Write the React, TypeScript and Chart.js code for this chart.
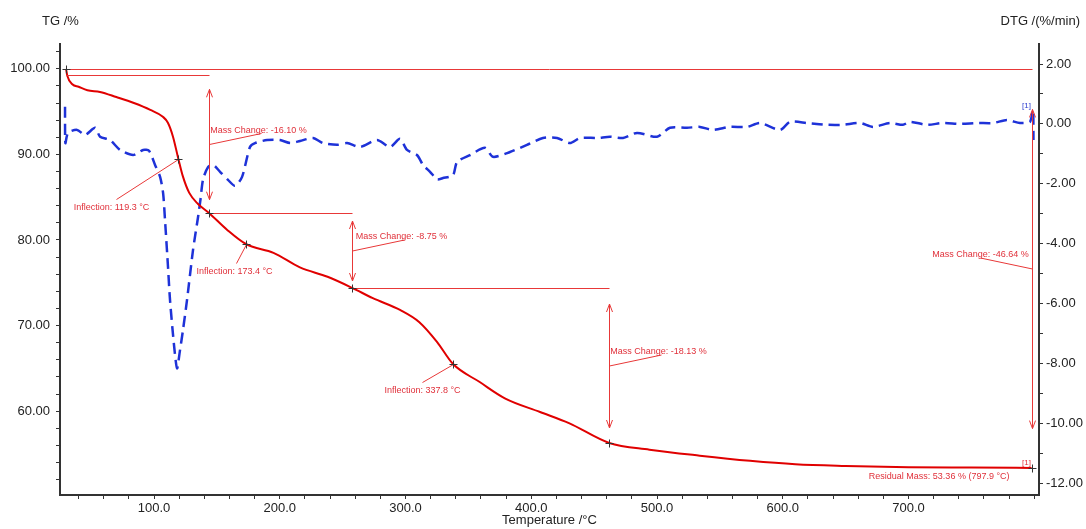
import { useEffect, useRef } from 'react';
import { Chart, registerables } from 'chart.js';

Chart.register(...registerables);

const FONT = "'Liberation Sans', Arial, sans-serif";

// TG curve (Temperature °C, TG %)
const tgTemps = [30, 31, 35, 40, 47, 57, 70, 84, 97, 107, 111, 115, 119.3, 123, 128, 135, 143.7, 158, 173.4, 195, 216, 238, 257.5, 274, 296, 311, 325, 337.8, 359, 379, 407, 430, 462, 494, 534, 574, 610, 650, 700, 750, 797.9];
const tgValues = [100.0, 99.2, 98.2, 97.9, 97.5, 97.3, 96.7, 96.0, 95.2, 94.4, 93.7, 92.1, 89.5, 87.4, 85.5, 84.2, 83.16, 81.2, 79.5, 78.5, 76.8, 75.7, 74.41, 73.2, 71.8, 70.4, 68.1, 65.5, 63.4, 61.5, 59.9, 58.6, 56.28, 55.5, 54.8, 54.2, 53.8, 53.6, 53.45, 53.4, 53.36];

// DTG curve (Temperature °C, DTG %/min)
const dtgTemps = [29.2, 29.5, 31.6, 38.8, 45.1, 53.1, 57.1, 65.0, 73.0, 83.3, 91.3, 96, 100.8, 104.8, 107.2, 108.7, 111.1, 112.7, 115.9, 118.3, 120.5, 123, 126.2, 131, 135, 137, 139, 143, 147, 152.5, 158.8, 164.4, 170, 176.3, 180.3, 189.9, 200.2, 208.2, 216.1, 226.4, 234.4, 245.5, 253.5, 263.8, 277.3, 287.7, 295.6, 301.2, 309.1, 313.9, 319.5, 325, 329.8, 337.8, 341, 351.3, 363.2, 369.6, 383.1, 396.6, 409.3, 420.5, 430.8, 438.8, 452.3, 462.6, 473, 484.1, 500, 510.3, 523.9, 534.2, 544.5, 558, 571.6, 581.9, 597.8, 605.8, 619.3, 635.2, 647.9, 661.4, 671.8, 685.3, 695.6, 701.2, 714.7, 727.4, 741, 754.5, 767.2, 778.3, 788.7, 796.6, 799, 799.4];
const dtgValues = [0.57, -0.64, -0.30, -0.20, -0.37, -0.13, -0.43, -0.54, -0.87, -1.04, -0.87, -0.90, -1.37, -1.77, -2.31, -3.2, -4.78, -5.89, -7.40, -8.17, -7.6, -6.89, -5.89, -4.21, -3.11, -2.5, -1.85, -1.44, -1.37, -1.6, -1.87, -2.07, -1.77, -0.77, -0.64, -0.54, -0.54, -0.64, -0.57, -0.47, -0.64, -0.70, -0.64, -0.77, -0.54, -0.77, -0.50, -0.87, -1.04, -1.37, -1.6, -1.85, -1.81, -1.71, -1.27, -1.04, -0.80, -1.10, -0.94, -0.70, -0.47, -0.47, -0.64, -0.47, -0.47, -0.43, -0.47, -0.30, -0.43, -0.13, -0.13, -0.10, -0.20, -0.10, -0.10, 0.03, -0.20, 0.07, 0.03, -0.03, -0.03, 0.03, -0.10, 0.03, -0.03, 0.07, -0.03, 0.03, 0.0, 0.03, 0.03, 0.13, 0.03, 0.07, 0.47, -0.54];

// Mass change steps
const stepLabels = ['Mass Change: -16.10 %', 'Mass Change: -8.75 %', 'Mass Change: -18.13 %', 'Mass Change: -46.64 %'];
const stepStartT = [30, 143.7, 257.5, 30];
const stepEndT = [143.7, 257.5, 462.0, 797.9];
const stepFrom = [99.26, 83.16, 74.41, 100.0];
const stepTo = [83.16, 74.41, 56.28, 53.36];

// Inflection points
const inflectionT = [119.3, 173.4, 337.8];
const inflectionTG = [89.5, 79.5, 65.5];
const inflectionLabels = ['Inflection: 119.3 °C', 'Inflection: 173.4 °C', 'Inflection: 337.8 °C'];

const residualLabel = 'Residual Mass: 53.36 % (797.9 °C)';
const residualT = 797.9;
const residualTG = 53.36;

const RED_LINE = '#e83838';
const RED_TEXT = '#e0303a';

const annotationPlugin = {
  id: 'tgAnnotations',
  afterDatasetsDraw(chart: any) {
    const { ctx, scales } = chart;
    const xs = scales.x;
    const ys = scales.y;
    const y1 = scales.y1;
    const px = (t: number) => Math.round(xs.getPixelForValue(t)) + 0.5;
    const py = (v: number) => Math.round(ys.getPixelForValue(v)) + 0.5;
    const line = (ax: number, ay: number, bx: number, by: number) => {
      ctx.beginPath();
      ctx.moveTo(ax, ay);
      ctx.lineTo(bx, by);
      ctx.stroke();
    };
    const arrowHead = (x: number, tip: number, dir: number) => {
      ctx.beginPath();
      ctx.moveTo(x - 3, tip - dir * 8);
      ctx.lineTo(x, tip);
      ctx.lineTo(x + 3, tip - dir * 8);
      ctx.stroke();
    };
    const cross = (x: number, y: number) => {
      ctx.save();
      ctx.strokeStyle = '#333';
      ctx.lineWidth = 1;
      line(x - 4, y, x + 4, y);
      line(x, y - 4, x, y + 4);
      ctx.restore();
    };

    ctx.save();
    ctx.lineWidth = 1;
    ctx.strokeStyle = RED_LINE;
    ctx.fillStyle = RED_TEXT;
    ctx.font = `9px ${FONT}`;

    for (let i = 0; i < stepLabels.length; i++) {
      const xa = px(stepEndT[i]);
      const yTop = py(stepFrom[i]);
      const yBot = py(stepTo[i]);
      ctx.strokeStyle = RED_LINE;
      line(px(stepStartT[i]), yTop, xa, yTop);
      const span = yBot - yTop;
      const a1 = yTop + span * 0.1;
      const a2 = yBot - span * 0.1;
      line(xa, a1, xa, a2);
      arrowHead(xa, a1, -1);
      arrowHead(xa, a2, 1);
      const mid = (yTop + yBot) / 2;
      const dx = i === 3 ? -52 : 52;
      const ex = xa + dx;
      const ey = mid - 11;
      line(xa, mid, ex, ey);
      ctx.textAlign = 'center';
      ctx.textBaseline = 'alphabetic';
      ctx.fillText(stepLabels[i], ex + (i === 3 ? 0 : -3), ey - 1);
    }

    const inflOffsets = [
      { lx: -62, ly: 40, tx: -67, ty: 48 },
      { lx: -10, ly: 19, tx: -12, ty: 27 },
      { lx: -31, ly: 18, tx: -31, ty: 26 },
    ];
    for (let i = 0; i < inflectionT.length; i++) {
      const mx = px(inflectionT[i]);
      const my = py(inflectionTG[i]);
      const o = inflOffsets[i];
      line(mx, my, mx + o.lx, my + o.ly);
      ctx.textAlign = 'center';
      ctx.textBaseline = 'middle';
      ctx.fillText(inflectionLabels[i], mx + o.tx, my + o.ty);
    }

    // residual
    const rx = px(residualT);
    const ry = py(residualTG);
    ctx.textAlign = 'right';
    ctx.textBaseline = 'middle';
    ctx.fillText(residualLabel, rx - 23, ry + 8);
    ctx.font = `8px ${FONT}`;
    ctx.textAlign = 'center';
    ctx.fillText('[1]', rx - 6, ry - 6);
    ctx.fillStyle = '#3040d0';
    ctx.fillText('[1]', rx - 6, y1.getPixelForValue(0.47) - 4);

    // markers
    for (let i = 0; i < inflectionT.length; i++) cross(px(inflectionT[i]), py(inflectionTG[i]));
    for (let i = 0; i < 3; i++) cross(px(stepEndT[i]), py(stepTo[i]));
    cross(px(stepStartT[0]), py(stepFrom[3]));
    cross(rx, ry);
    ctx.restore();

    // axis titles
    ctx.save();
    ctx.fillStyle = '#222';
    ctx.font = `13px ${FONT}`;
    ctx.textBaseline = 'middle';
    ctx.textAlign = 'left';
    ctx.fillText('TG /%', 42, 21);
    ctx.textAlign = 'right';
    ctx.fillText('DTG /(%/min)', 1080, 21);
    ctx.textAlign = 'center';
    ctx.fillText('Temperature /°C', (xs.left + xs.right) / 2, 520);
    ctx.restore();
  },
};

export default function App() {
  const ref = useRef<HTMLCanvasElement | null>(null);
  useEffect(() => {
    if (!ref.current) return;
    Chart.defaults.font.family = FONT;
    const tickFont = { family: FONT, size: 13 };
    const chart = new Chart(ref.current, {
      type: 'line',
      data: {
        datasets: [
          {
            label: 'TG',
            data: tgTemps.map((t, i) => ({ x: t, y: tgValues[i] })),
            borderColor: '#e00000',
            borderWidth: 2,
            pointRadius: 0,
            cubicInterpolationMode: 'monotone',
            yAxisID: 'y',
          },
          {
            label: 'DTG',
            data: dtgTemps.map((t, i) => ({ x: t, y: dtgValues[i] })),
            borderColor: '#1e32d8',
            borderWidth: 2.5,
            borderDash: [11, 6],
            pointRadius: 0,
            tension: 0.25,
            yAxisID: 'y1',
          },
        ],
      },
      options: {
        responsive: false,
        animation: false,
        layout: { padding: { top: 44, left: 0, right: 0, bottom: 0 } },
        plugins: { legend: { display: false }, tooltip: { enabled: false } },
        scales: {
          x: {
            type: 'linear',
            min: 25.2,
            max: 803.8,
            afterFit: (s: any) => { s.height = 34; },
            ticks: {
              stepSize: 20,
              autoSkip: false,
              maxRotation: 0,
              includeBounds: false,
              padding: 2,
              color: '#222',
              font: tickFont,
              callback: (v: any) => (Math.abs(v % 100) < 1e-6 && v < 800 ? Number(v).toFixed(1) : ''),
            },
            grid: { drawOnChartArea: false, drawTicks: true, tickLength: 4, color: '#333' },
            border: { display: true, color: '#333', width: 2 },
          },
          y: {
            type: 'linear',
            position: 'left',
            min: 50.2,
            max: 102.9,
            afterFit: (s: any) => { s.width = 60; },
            ticks: {
              stepSize: 2,
              autoSkip: false,
              includeBounds: false,
              padding: 6,
              color: '#222',
              font: tickFont,
              callback: (v: any) => (Math.abs(v % 10) < 1e-6 ? Number(v).toFixed(2) : ''),
            },
            grid: { drawOnChartArea: false, drawTicks: true, tickLength: 4, color: '#333' },
            border: { display: true, color: '#333', width: 2 },
          },
          y1: {
            type: 'linear',
            position: 'right',
            min: -12.4,
            max: 2.67,
            afterFit: (s: any) => { s.width = 47; },
            ticks: {
              stepSize: 1,
              autoSkip: false,
              includeBounds: false,
              padding: 3,
              color: '#222',
              font: tickFont,
              callback: (v: any) => (Math.abs(v % 2) < 1e-6 ? Number(v).toFixed(2) : ''),
            },
            grid: { drawOnChartArea: false, drawTicks: true, tickLength: 4, color: '#333' },
            border: { display: true, color: '#333', width: 2 },
          },
        },
      },
      plugins: [annotationPlugin],
    } as any);
    return () => chart.destroy();
  }, []);
  return (
    <div style={{ position: 'absolute', left: 0, top: 0, width: 1086, height: 529, background: '#fff' }}>
      <canvas ref={ref} width={1086} height={529} style={{ display: 'block' }} />
    </div>
  );
}
